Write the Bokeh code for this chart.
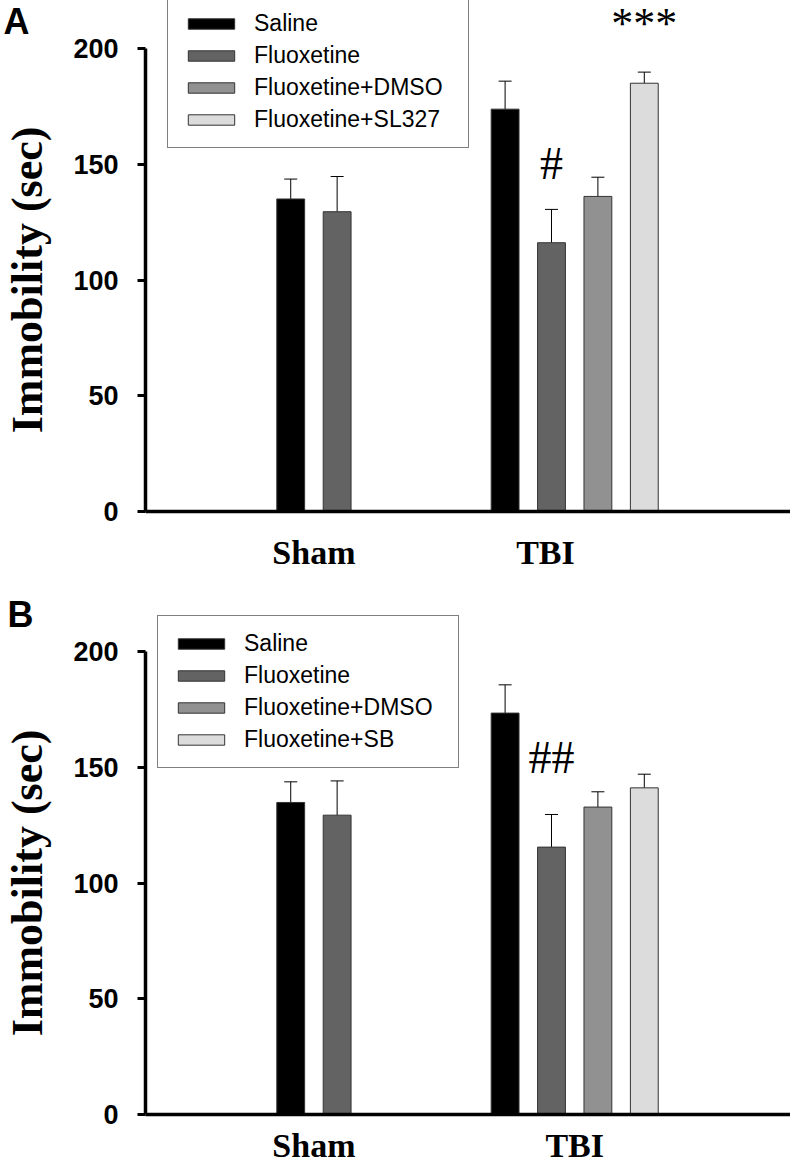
from bokeh.plotting import figure
from bokeh.models import (ColumnDataSource, Whisker, TeeHead, Legend,
                          LegendItem, FixedTicker, Range1d)
from bokeh.core.properties import value
from bokeh.layouts import column
from bokeh.embed import file_html
from bokeh.resources import INLINE

# ---------------- data ----------------
groups = ["Sham", "TBI"]
treat_a = ["Saline", "Fluoxetine", "Fluoxetine+DMSO", "Fluoxetine+SL327"]
treat_b = ["Saline", "Fluoxetine", "Fluoxetine+DMSO", "Fluoxetine+SB"]
colors = ["#000000", "#636363", "#919191", "#dcdcdc"]

sham_mean_a = [135.0, 129.5]
sham_sem_a = [8.6, 15.2]
tbi_mean_a = [173.8, 116.1, 136.1, 185.0]
tbi_sem_a = [12.1, 14.4, 8.3, 4.8]

sham_mean_b = [134.8, 129.3]
sham_sem_b = [8.9, 14.8]
tbi_mean_b = [173.4, 115.5, 132.8, 141.1]
tbi_sem_b = [12.2, 14.1, 6.6, 5.9]

y_ticks = [0, 50, 100, 150, 200]
y_label = "Immobility (sec)"

# significance marks: (group, bar index, text)
marks_a = [("TBI", 1, "#"), ("TBI", 3, "***")]
marks_b = [("TBI", 1, "##")]

# ---------------- layout constants ----------------
W = 790
GROUP_START = {"Sham": 3.13, "TBI": 7.75}
BAR_W = 0.6
PX_PER_X = 46.4
AXIS_X_PX = 145
PX_PER_Y = 2.315


def make_panel(letter, treatments, sham_mean, sham_sem, tbi_mean, tbi_sem,
               marks, mark_y, height, zero_px, tbi_label_x, legend_loc,
               letter_px, cat_standoff):
    x_range = Range1d(-AXIS_X_PX / PX_PER_X, (W - AXIS_X_PX) / PX_PER_X)
    y_range = Range1d(-(height - zero_px) / PX_PER_Y, zero_px / PX_PER_Y)
    p = figure(width=W, height=height, x_range=x_range, y_range=y_range,
               output_backend="svg", toolbar_location=None,
               min_border=0, min_border_left=0, min_border_right=0,
               min_border_top=0, min_border_bottom=0)
    p.outline_line_color = None
    p.xgrid.visible = False
    p.ygrid.visible = False

    means = {"Sham": sham_mean, "TBI": tbi_mean}
    sems = {"Sham": sham_sem, "TBI": tbi_sem}
    items = []
    bar_x = {}
    for i, t in enumerate(treatments):
        xs, tops, ups = [], [], []
        for g in groups:
            if i < len(means[g]):
                x = GROUP_START[g] + i
                xs.append(x)
                tops.append(means[g][i])
                ups.append(means[g][i] + sems[g][i])
                bar_x[(g, i)] = x
        src = ColumnDataSource(dict(x=xs, top=tops, upper=ups))
        p.add_layout(Whisker(base="x", lower="top", upper="upper", source=src,
                             dimension="height", line_color="black",
                             line_width=1, lower_head=None,
                             upper_head=TeeHead(size=13, line_width=1,
                                                line_color="black")))
        r = p.vbar(x="x", top="top", bottom=0, width=BAR_W, source=src,
                   fill_color=colors[i], line_color="#333333", line_width=1)
        items.append(LegendItem(label=t, renderers=[r]))

    legend = Legend(items=items, location=legend_loc, glyph_width=58,
                    glyph_height=13, label_text_font="Liberation Sans",
                    label_text_font_size="23px", label_text_color="black",
                    label_standoff=14, spacing=5, padding=14, margin=0,
                    label_width=200, border_line_color="black",
                    border_line_width=1, background_fill_color="white",
                    background_fill_alpha=1)
    p.add_layout(legend)

    # y axis, fixed at x = 0
    ya = p.yaxis[0]
    ya.fixed_location = 0
    ya.bounds = (0, 200)
    ya.ticker = FixedTicker(ticks=y_ticks)
    ya.major_label_text_font = "Liberation Sans"
    ya.major_label_text_font_style = "bold"
    ya.major_label_text_font_size = "27px"
    ya.major_label_text_color = "black"
    ya.major_tick_out = 8
    ya.major_tick_in = 0
    ya.major_tick_line_width = 3
    ya.minor_tick_out = 0
    ya.minor_tick_in = 0
    ya.axis_line_width = 3.5
    ya.major_label_standoff = 19
    ya.axis_label = y_label
    ya.axis_label_text_font = "Liberation Serif"
    ya.axis_label_text_font_style = "bold"
    ya.axis_label_text_font_size = "44px"
    ya.axis_label_text_color = "black"
    ya.axis_label_standoff = 18

    # x axis, fixed at y = 0, with group names as tick labels
    cat_x = [GROUP_START["Sham"] + 0.5, tbi_label_x]
    xa = p.xaxis[0]
    xa.fixed_location = 0
    xa.bounds = (0, x_range.end)
    xa.ticker = FixedTicker(ticks=cat_x)
    xa.major_label_overrides = {cx: g for cx, g in zip(cat_x, groups)}
    xa.major_label_text_font = "Liberation Serif"
    xa.major_label_text_font_style = "bold"
    xa.major_label_text_font_size = "34px"
    xa.major_label_text_color = "black"
    xa.major_label_standoff = cat_standoff
    xa.major_tick_out = 0
    xa.major_tick_in = 0
    xa.minor_tick_out = 0
    xa.minor_tick_in = 0
    xa.axis_line_width = 3.5

    # significance marks as text glyphs
    mx = [bar_x[(g, i)] for g, i, _ in marks]
    mt = [txt for _, _, txt in marks]
    ms = ["44px" if t.startswith("*") else "46px" for t in mt]
    msrc = ColumnDataSource(dict(x=mx, y=mark_y, text=mt, size=ms))
    p.text(x="x", y="y", text="text", source=msrc, text_align="center",
           text_baseline="alphabetic", text_font=value("Liberation Serif"),
           text_font_size="size", text_color="black")

    # panel letter (pixel position converted to data space)
    lx = x_range.start + letter_px[0] / PX_PER_X
    ly = y_range.end - letter_px[1] / PX_PER_Y
    p.text(x=[lx], y=[ly], text=[letter], text_align="left",
           text_baseline="alphabetic", text_font=value("Liberation Sans"),
           text_font_style="bold", text_font_size="36px", text_color="black")
    return p


pA = make_panel("A", treat_a, sham_mean_a, sham_sem_a, tbi_mean_a, tbi_sem_a,
                marks_a, [150.3, 211], height=590, zero_px=511,
                tbi_label_x=8.62, legend_loc=(167, 442), letter_px=(3, 21),
                cat_standoff=22)
pB = make_panel("B", treat_b, sham_mean_b, sham_sem_b, tbi_mean_b, tbi_sem_b,
                marks_b, [154], height=576, zero_px=524,
                tbi_label_x=9.25, legend_loc=(157, 398), letter_px=(7, 24),
                cat_standoff=12)

layout = column(pA, pB, spacing=0)
open("out.html", "w").write(file_html(layout, INLINE))
